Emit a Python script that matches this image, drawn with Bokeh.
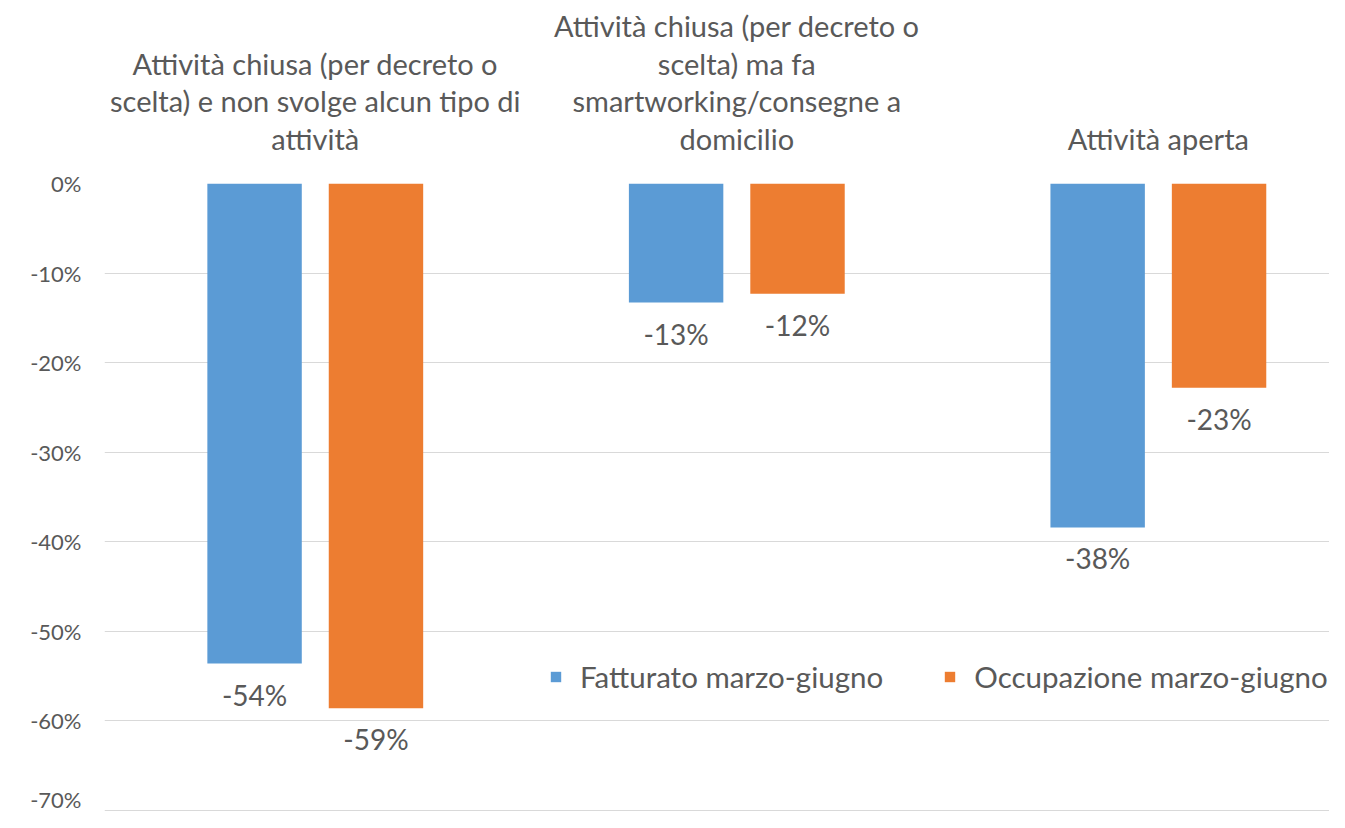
from bokeh.plotting import figure
from bokeh.models import (ColumnDataSource, Range1d, LinearAxis, FixedTicker,
                          NumeralTickFormatter, Legend, LegendItem)
from bokeh.transform import dodge
from bokeh.core.properties import value
from bokeh.embed import file_html
from bokeh.resources import INLINE

categories = [
    "Attività chiusa (per decreto o\nscelta) e non svolge alcun tipo di\nattività",
    "Attività chiusa (per decreto o\nscelta) ma fa\nsmartworking/consegne a\ndomicilio",
    "Attività aperta",
]
fatturato = [-0.536, -0.133, -0.384]
occupazione = [-0.586, -0.123, -0.228]
fatturato_labels = ["-54%", "-13%", "-38%"]
occupazione_labels = ["-59%", "-12%", "-23%"]
y_ticks = [0, -0.1, -0.2, -0.3, -0.4, -0.5, -0.6, -0.7]

BLUE = "#5B9BD5"
ORANGE = "#ED7D31"
TXT = "#595959"
FONT = "Lato"

src = ColumnDataSource(dict(
    x=list(range(len(categories))),
    f=fatturato, o=occupazione,
    fl=fatturato_labels, ol=occupazione_labels,
))

p = figure(width=1329, height=812, output_backend="svg", toolbar_location=None,
           x_range=Range1d(-0.5, 2.406), y_range=Range1d(-0.7012, 0.0),
           x_axis_location=None, y_axis_location="left",
           min_border_left=104, min_border_right=0, min_border_top=183,
           min_border_bottom=1)
p.outline_line_color = None
p.background_fill_color = "white"
p.border_fill_color = "white"

p.xgrid.visible = False
p.ygrid.ticker = FixedTicker(ticks=y_ticks)
p.ygrid.grid_line_color = "#D9D9D9"
p.ygrid.grid_line_width = 1

yax = p.yaxis[0]
yax.ticker = FixedTicker(ticks=y_ticks)
yax.formatter = NumeralTickFormatter(format="0%")
yax.axis_line_color = None
yax.major_tick_line_color = None
yax.minor_tick_line_color = None
yax.major_label_text_font = FONT
yax.major_label_text_font_size = "22px"
yax.major_label_text_color = TXT
yax.major_label_standoff = 17

top = LinearAxis(ticker=FixedTicker(ticks=[0, 1, 2]),
                 major_label_overrides={i: c for i, c in enumerate(categories)})
top.axis_line_color = None
top.major_tick_line_color = None
top.minor_tick_line_color = None
top.major_label_text_font = FONT
top.major_label_text_font_size = "29px"
top.major_label_text_line_height = 1.07
top.major_label_text_color = TXT
top.major_label_standoff = 22
p.add_layout(top, "above")

W = 0.224
rb = p.vbar(x=dodge("x", -0.144, range=p.x_range), top=0, bottom="f", width=W,
            source=src, fill_color=BLUE, line_color=None)
ro = p.vbar(x=dodge("x", 0.144, range=p.x_range), top=0, bottom="o", width=W,
            source=src, fill_color=ORANGE, line_color=None)

p.text(x=dodge("x", -0.144, range=p.x_range), y="f", text="fl", source=src,
       text_align="center", text_baseline="top", y_offset=14,
       text_font=value(FONT), text_font_size="28px", text_color=TXT)
p.text(x=dodge("x", 0.144, range=p.x_range), y="o", text="ol", source=src,
       text_align="center", text_baseline="top", y_offset=14,
       text_font=value(FONT), text_font_size="28px", text_color=TXT)

legend = Legend(items=[LegendItem(label="Fatturato marzo-giugno", renderers=[rb]),
                       LegendItem(label="Occupazione marzo-giugno", renderers=[ro])],
                orientation="horizontal", location=(445, 117),
                glyph_width=13, glyph_height=13, label_standoff=18, spacing=60,
                padding=0, margin=0, border_line_color=None,
                background_fill_alpha=0,
                label_text_font=FONT, label_text_font_size="29.5px",
                label_text_color=TXT)
p.add_layout(legend, "center")

open("out.html", "w").write(file_html(p, INLINE))
